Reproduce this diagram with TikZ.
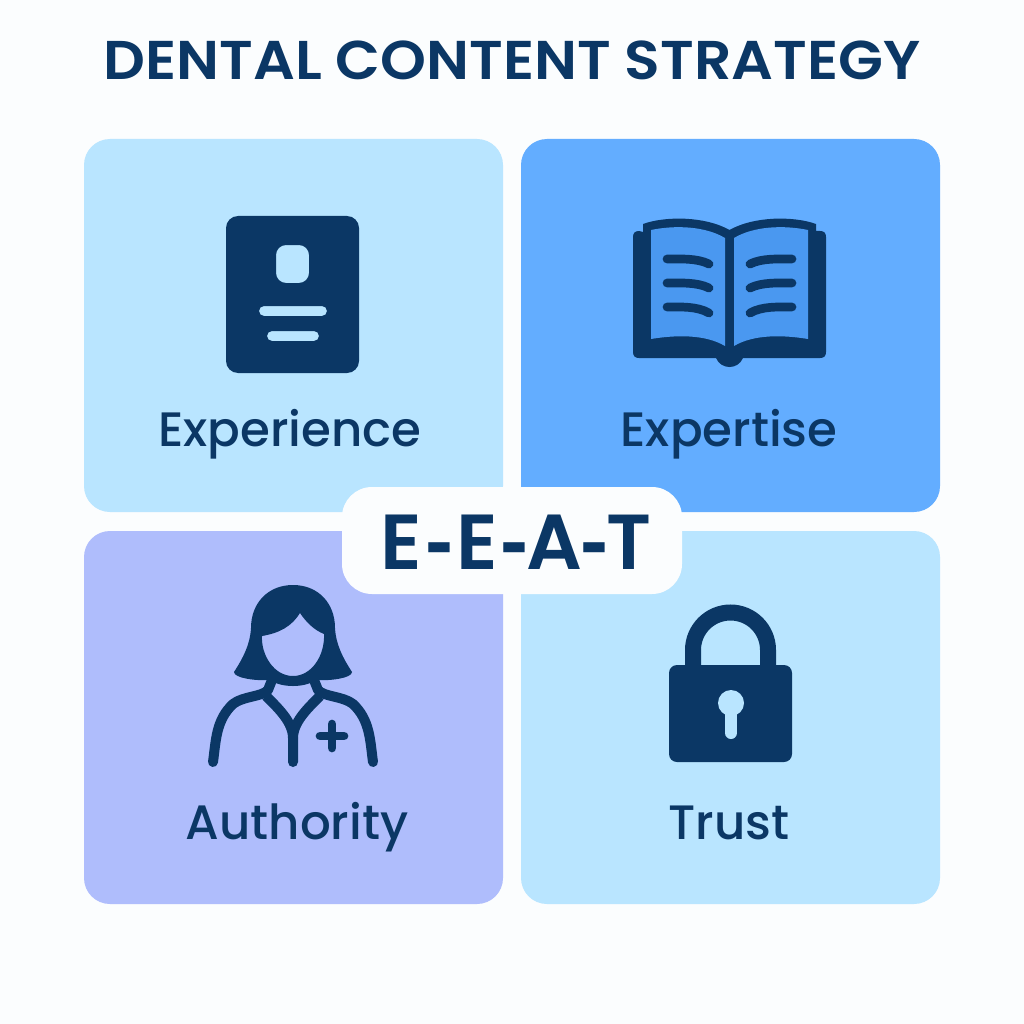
\documentclass[tikz,border=0pt]{standalone}
\usepackage{fontspec}
\setmainfont{Poppins}
\newfontfamily\medf{Poppins Medium}
\newfontfamily\semif{Poppins SemiBold}
\newfontfamily\titlef[FakeStretch=1.07]{Poppins SemiBold}
\newfontfamily\hyf{Liberation Sans Bold}
\definecolor{bgc}{HTML}{FBFDFE}
\definecolor{lightc}{HTML}{B9E5FF}
\definecolor{bluec}{HTML}{63ADFF}
\definecolor{lavc}{HTML}{AFBDFC}
\definecolor{darkc}{HTML}{0B3765}
\definecolor{pagec}{HTML}{4A98F0}
\tikzset{
 card/.style={rounded corners=26pt,minimum width=419pt,minimum height=373pt,inner sep=0pt,draw=none},
 pill/.style={rounded corners=30pt,minimum width=340pt,minimum height=107pt,inner sep=0pt,fill=bgc},
 lab/.style={anchor=base,text=darkc,inner sep=0pt,font=\medf\fontsize{48.3}{48}\selectfont},
 ink/.style={fill=darkc,draw=none},
 rule/.style={draw=darkc,line width=8.7pt,line cap=round,line join=round},
 stroke/.style={draw=darkc,line width=10pt,line cap=round,line join=round},
}
\begin{document}
\begin{tikzpicture}[x=1pt,y=-1pt]
\useasboundingbox (0,0) rectangle (1024,1024);
\fill[bgc] (0,0) rectangle (1024,1024);
\node[anchor=base,text=darkc,inner sep=0pt,font=\titlef\fontsize{54.6}{55}\selectfont] (title) at (512,80) {DENTAL CONTENT STRATEGY};
\node[card,fill=lightc] (c1) at (293.5,325.5) {};
\node[card,fill=bluec] (c2) at (730.5,325.5) {};
\node[card,fill=lavc] (c3) at (293.5,717.5) {};
\node[card,fill=lightc] (c4) at (730.5,717.5) {};
\node[pill] (p) at (512,540.5) {};
\node[anchor=base,text=darkc,inner sep=0pt,font=\semif\fontsize{78}{78}\selectfont] (eeat) at (516,569) {E\kern3pt{\hyf\fontsize{84}{84}\selectfont -}\kern3pt E\kern3pt{\hyf\fontsize{84}{84}\selectfont -}\kern-2pt A\kern-2pt{\hyf\fontsize{84}{84}\selectfont -}\kern-2pt T};
\node[lab] (l1) at (290,446) {Experience};
\node[lab] (l2) at (729,446) {Expertise};
\node[lab] (l3) at (297,839) {Authority};
\node[lab] (l4) at (729,839) {Trust};
% document icon
\fill[ink,even odd rule,rounded corners=0pt] 
  [rounded corners=12pt] (226,216) rectangle (359,373)
  [rounded corners=10pt] (276,245) rectangle (309,283)
  [rounded corners=5pt] (259,306) rectangle (327,316)
  (267,331) rectangle (319,341);
% book icon
\fill[ink] (643,232) -- (643,224) .. controls (665,216) and (705,216) .. (729.5,230)
  .. controls (754,216) and (794,216) .. (816,224) -- (816,231) -- (820,231)
  .. controls (824,231) and (826,233) .. (826,237) -- (826,352)
  .. controls (826,356) and (824,358) .. (820,358) -- (743,358)
  .. controls (738,370) and (721,370) .. (716,358) -- (639,358)
  .. controls (635,358) and (633,356) .. (633,352) -- (633,237)
  .. controls (633,233) and (635,231) .. (639,231) -- cycle;
\fill[pagec] (651,230) .. controls (675,225) and (705,226) .. (725,238) -- (725,346)
  .. controls (705,334) and (675,335) .. (651,339) -- cycle;
\fill[pagec] (808,230) .. controls (784,225) and (754,226) .. (734,238) -- (734,346)
  .. controls (754,334) and (784,335) .. (808,339) -- cycle;
\foreach \ya/\yb in {259/264,283/288,307/313}{
  \draw[rule] (667,\ya) .. controls (680,\ya) and (697,\ya-1) .. (709,\yb);
  \draw[rule] (792,\ya) .. controls (779,\ya) and (762,\ya-1) .. (750,\yb);
}
% person icon
\fill[ink,even odd rule] (293,585) .. controls (268,585) and (251,603) .. (251,628)
  .. controls (250,645) and (243,658) .. (234,672)
  .. controls (234,678) and (255,681) .. (270,680)
  .. controls (276,684) and (284,686) .. (293,686)
  .. controls (302,686) and (310,684) .. (316,680)
  .. controls (331,681) and (352,678) .. (352,672)
  .. controls (343,658) and (336,645) .. (335,628)
  .. controls (335,603) and (318,585) .. (293,585) -- cycle
  (262,636) .. controls (280,633) and (292,626) .. (300,613)
  .. controls (306,622) and (314,630) .. (324,634)
  .. controls (325,655) and (312,676) .. (293,676)
  .. controls (274,676) and (261,655) .. (262,636) -- cycle;
\draw[stroke] (213,762) .. controls (216,740) and (216,720) .. (233,704)
  .. controls (243,696) and (262,697) .. (268,690) -- (272,680);
\draw[stroke] (373,762) .. controls (370,740) and (370,720) .. (353,704)
  .. controls (343,696) and (324,697) .. (318,690) -- (314,680);
\draw[stroke,line cap=butt] (266,696) .. controls (278,708) and (293,722) .. (293,738) -- (293,762);
\draw[stroke,line cap=butt] (320,696) .. controls (308,708) and (293,722) .. (293,738);
\draw[stroke,line cap=round] (293,745) -- (293,762);
\draw[rule] (332,724) -- (332,748) (320,736) -- (344,736);
% lock icon
\draw[draw=darkc,line width=16pt] (693,668) -- (693,650) arc[start angle=180,end angle=360,radius=37.5] -- (768,668);
\fill[ink,rounded corners=8pt] (669,665) rectangle (792,762);
\fill[lightc] (731,703) circle[radius=13];
\draw[lightc,line width=12pt,line cap=round] (731,708) -- (731,733);
\end{tikzpicture}
\end{document}
